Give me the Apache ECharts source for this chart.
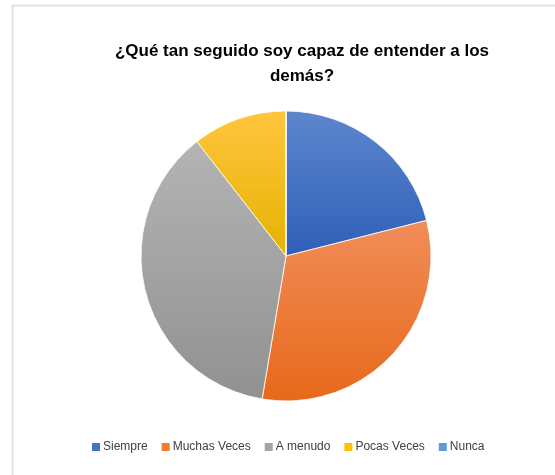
<!DOCTYPE html>
<html lang="es">
<head>
    <meta charset="UTF-8">
    <title>Pie</title>
    <script src="https://cdn.jsdelivr.net/npm/echarts@6/dist/echarts.min.js"></script>
    <style>
        html, body { margin: 0; padding: 0; background: #fff; }
        #chart { width: 555px; height: 475px; }
    </style>
</head>
<body>
<div id="chart"></div>
<script>
    var categories = ["Siempre", "Muchas Veces", "A menudo", "Pocas Veces", "Nunca"]
    var values = [4, 6, 7, 2, 0]
    // color arriba / abajo de cada porcion (degradado)
    var topColors = ["#5D86CE", "#F18D59", "#B4B4B4", "#FFC53F", "#5B9BD5"]
    var bottomColors = ["#2F5FB8", "#E7691A", "#919191", "#E6B200", "#4A8AC8"]
    var legendColors = ["#4472C4", "#ED7D31", "#A5A5A5", "#FFC000", "#5B9BD5"]

    var data = []
    for (var i = 0; i < categories.length; i++) {
        data.push({
            name: categories[i],
            value: values[i],
            itemStyle: {
                color: new echarts.graphic.LinearGradient(0, 0, 0, 1, [
                    {offset: 0, color: topColors[i]},
                    {offset: 1, color: bottomColors[i]}
                ])
            }
        })
    }

    var chart = echarts.init(document.getElementById("chart"), null, {renderer: 'canvas'})
    chart.setOption({
        animation: false,
        graphic: [{
            type: 'rect',
            shape: {x: 12.5, y: 5.5, width: 600, height: 600},
            style: {fill: 'none', stroke: '#DEE2E8', lineWidth: 2}
        }],
        title: {
            text: "¿Qué tan seguido soy capaz de entender a los\ndemás?",
            left: 297,
            top: 34,
            textAlign: 'center',
            textStyle: {
                fontFamily: 'Liberation Sans',
                fontWeight: 'bold',
                fontSize: 17,
                lineHeight: 25,
                color: '#000'
            }
        },
        legend: {
            top: 436,
            left: 87,
            itemWidth: 8,
            itemHeight: 8,
            itemGap: 14,
            icon: 'rect',
            data: categories.map(function (c, i) {
                return {name: c, itemStyle: {color: legendColors[i], borderWidth: 0}}
            }),
            textStyle: {
                fontFamily: 'Liberation Sans',
                fontSize: 12,
                color: '#404040',
                padding: [0, 0, 0, -2]
            }
        },
        series: [{
            type: 'pie',
            center: [286, 256],
            radius: 145,
            startAngle: 90,
            clockwise: true,
            label: {show: false},
            labelLine: {show: false},
            itemStyle: {borderColor: '#fff', borderWidth: 0.8},
            data: data
        }]
    })
</script>
</body>
</html>
